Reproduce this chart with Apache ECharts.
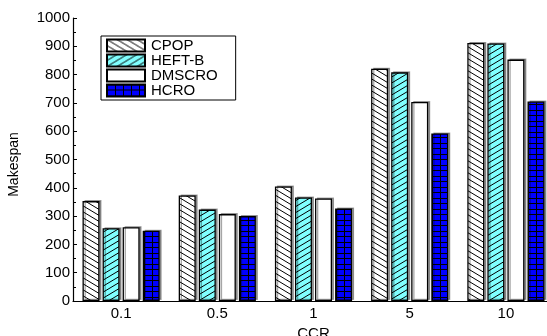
<!DOCTYPE html>
<html>
<head>
<meta charset="utf-8">
<script src="https://cdn.jsdelivr.net/npm/echarts@6/dist/echarts.min.js"></script>
<style>
html,body{margin:0;padding:0;background:#fff;}
#chart{width:547px;height:336px;}
</style>
</head>
<body>
<div id="chart"></div>
<script>
// ---- data ----
var categories = ['0.1', '0.5', '1', '5', '10'];
var seriesNames = ['CPOP', 'HEFT-B', 'DMSCRO', 'HCRO'];
var cpop   = [353, 373, 405, 821, 912];
var heftB  = [257, 323, 366, 808, 910];
var dmscro = [261, 307, 362, 703, 853];
var hcro   = [248, 300, 327, 592, 705];
var yTicks = [0, 100, 200, 300, 400, 500, 600, 700, 800, 900, 1000];

// ---- patterns ----
function makeHatch(bg, dir) {
  var c = document.createElement('canvas');
  c.width = 10; c.height = 6;
  var g = c.getContext('2d');
  g.fillStyle = bg; g.fillRect(0, 0, 10, 6);
  g.strokeStyle = '#000'; g.lineWidth = 1;
  for (var k = -1; k <= 1; k++) {
    g.beginPath();
    if (dir > 0) { g.moveTo(-10, -6 + k * 6); g.lineTo(20, 12 + k * 6); }
    else { g.moveTo(-10, 12 + k * 6); g.lineTo(20, -6 + k * 6); }
    g.stroke();
  }
  return c;
}
function makeGrid() {
  var c = document.createElement('canvas');
  c.width = 8; c.height = 11;
  var g = c.getContext('2d');
  g.fillStyle = '#0000ff'; g.fillRect(0, 0, 8, 11);
  g.fillStyle = '#000';
  g.fillRect(0, 0, 8, 1);
  g.fillRect(0, 5, 8, 1);
  g.fillRect(0, 0, 1, 11);
  return c;
}
var fills = [
  { image: makeHatch('#ffffff', 1), repeat: 'repeat' },
  { image: makeHatch('#80ffff', -1), repeat: 'repeat' },
  '#ffffff',
  { image: makeGrid(), repeat: 'repeat' }
];
var values = [cpop, heftB, dmscro, hcro];

var font = 'Liberation Sans, Arial, Helvetica, sans-serif';
var series = seriesNames.map(function (n, i) {
  return {
    name: n,
    type: 'bar',
    data: values[i],
    barWidth: 17,
    barGap: '18%',
    itemStyle: {
      color: fills[i],
      borderColor: '#000',
      borderWidth: 1.3,
      shadowColor: 'rgba(0,0,0,0.35)',
      shadowOffsetX: 2,
      shadowOffsetY: -1,
      shadowBlur: 0
    },
    emphasis: { disabled: true }
  };
});

var chart = echarts.init(document.getElementById('chart'), null, { renderer: 'canvas' });
chart.setOption({
  animation: false,
  backgroundColor: '#fff',
  textStyle: { fontFamily: font },
  grid: { left: 73, top: 18, height: 283, width: 481, containLabel: false, outerBoundsMode: 'none' },
  legend: {
    orient: 'vertical',
    left: 101, top: 36,
    icon: 'rect',
    itemWidth: 38, itemHeight: 12, itemGap: 0,
    padding: [2, 18, 2, 5],
    borderColor: '#000', borderWidth: 1,
    backgroundColor: '#fff',
    itemStyle: { shadowBlur: 0, shadowOffsetX: 0, shadowOffsetY: 0, shadowColor: 'transparent' },
    textStyle: { fontSize: 15, color: '#000', fontFamily: font, padding: [0, 0, 0, 1] },
    data: seriesNames
  },
  xAxis: {
    type: 'category',
    data: categories,
    boundaryGap: true,
    name: 'CCR',
    nameLocation: 'middle',
    nameGap: 20,
    nameTextStyle: { fontSize: 15, color: '#000', fontFamily: font },
    axisLine: { lineStyle: { color: '#000', width: 1.2 } },
    axisTick: { show: false },
    axisLabel: { fontSize: 15, color: '#000', margin: 5, fontFamily: font }
  },
  yAxis: {
    type: 'value',
    min: 0, max: 1000, interval: 100,
    name: 'Makespan',
    nameLocation: 'middle',
    nameGap: 52,
    nameRotate: 90,
    nameTextStyle: { fontSize: 14, color: '#000', fontFamily: font, padding: [0, 10, 0, 0] },
    axisLine: { show: true, lineStyle: { color: '#000', width: 1.2 } },
    axisTick: { show: true, inside: true, length: 4, lineStyle: { color: '#000' } },
    minorTick: { show: true, splitNumber: 2, length: 3, lineStyle: { color: '#000' } },
    splitLine: { show: false },
    axisLabel: {
      fontSize: 15, color: '#000', margin: 3, fontFamily: font,
      formatter: function (v) { return yTicks.indexOf(v) >= 0 ? String(v) : ''; }
    }
  },
  series: series
});
</script>
</body>
</html>
